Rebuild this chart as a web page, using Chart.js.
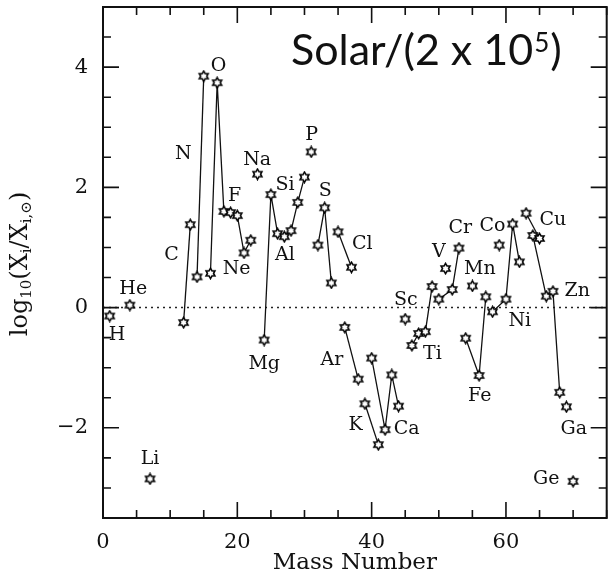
<!DOCTYPE html>
<html lang="en">
<head>
<meta charset="UTF-8">
<title>Production factors vs mass number</title>
<script src="https://cdn.jsdelivr.net/npm/chart.js"></script>
<style>
  body { margin: 0; background: #fff; }
  #wrap { width: 613px; height: 587px; position: relative; }
</style>
</head>
<body>
<div id="wrap"><canvas id="chart"></canvas></div>
<script>
// one entry per element: isotope mass numbers and log10(X/Xsun)
const elementNames = ['H','He','Li','C','N','O','F','Ne','Na','Mg','Al','Si','P','S','Cl','Ar','K','Ca',
                      'Sc','Ti','V','Cr','Mn','Fe','Co','Ni','Cu','Zn','Ga','Ge'];
const massNumbers = [[1],[4],[7],[12,13],[14,15],[16,17,18],[19],[20,21,22],[23],[24,25,26],[27],[28,29,30],
                     [31],[32,33,34],[35,37],[36,38],[39,41],[40,42,43,44],[45],[46,47,48,49],[51],[50,52,53],
                     [55],[54,56,57],[59],[58,60,61,62],[63,65],[64,66,67,68],[69],[70]];
const logValues = [[-0.14],[0.04],[-2.85],[-0.25,1.38],[0.51,3.85],[0.57,3.74,1.60],[1.58],[1.53,0.91,1.12],
                   [2.22],[-0.54,1.88,1.23],[1.18],[1.28,1.75,2.17],[2.59],[1.04,1.66,0.41],[1.26,0.67],
                   [-0.33,-1.19],[-1.60,-2.28],[-0.84,-2.03,-1.12,-1.64],[-0.19],[-0.63,-0.43,-0.40,0.35],
                   [0.65],[0.14,0.30,0.99],[0.36],[-0.51,-1.13,0.18],[1.04],[-0.07,0.14,1.39,0.76],
                   [1.57,1.15],[1.20,0.19,0.27,-1.41],[-1.65],[-2.89]];
// neighbours that the original joins into one line
const joinedElements = [['O','F','Ne'], ['Mg','Al','Si']];

// where each element name sits (data coords)
const labelNames = ['H','He','Li','C','N','O','F','Ne','Na','Mg','Al','Si','P','S','Cl','Ar','K','Ca',
                    'Sc','Ti','V','Cr','Mn','Fe','Co','Ni','Cu','Zn','Ga','Ge'];
const labelX = [2.1,4.5,7.0,10.2,11.95,17.2,19.6,19.9,22.96,24.0,27.1,27.1,31.05,33.1,38.6,34.1,37.6,45.2,
                45.1,49.05,50.0,53.2,56.1,56.1,58.0,62.05,67.0,70.6,70.1,66.0];
const labelY = [-0.46,0.31,-2.52,0.88,2.56,4.02,1.85,0.64,2.45,-0.94,0.88,2.04,2.87,1.93,1.05,-0.87,-1.96,-2.02,
                0.13,-0.77,0.93,1.33,0.64,-1.47,1.35,-0.22,1.46,0.28,-2.02,-2.85];

const xMajorTicks = [0, 20, 40, 60];
const yMajorTicks = [-2, 0, 2, 4];

// small open six-pointed star used as the marker
function makeStar() {
  const c = document.createElement('canvas');
  c.width = 13; c.height = 13;
  const g = c.getContext('2d');
  g.beginPath();
  for (let k = 0; k < 12; k++) {
    const r = k % 2 === 0 ? 5.2 : 3;
    const a = -Math.PI / 2 + k * Math.PI / 6;
    const px = 6.5 + r * Math.cos(a), py = 6.5 + r * Math.sin(a);
    k === 0 ? g.moveTo(px, py) : g.lineTo(px, py);
  }
  g.closePath();
  g.fillStyle = '#fff';
  g.fill();
  g.lineWidth = 1.5;
  g.strokeStyle = '#000';
  g.stroke();
  return c;
}
const star = makeStar();

// build one line dataset per element (or joined group)
const datasets = [];
const done = new Set();
elementNames.forEach(el => {
  if (done.has(el)) return;
  const chain = joinedElements.find(g => g.includes(el)) || [el];
  const pts = [];
  chain.forEach(e => {
    done.add(e);
    const k = elementNames.indexOf(e);
    massNumbers[k].forEach((m, j) => pts.push({ x: m, y: logValues[k][j] }));
  });
  pts.sort((a, b) => a.x - b.x);
  datasets.push({
    label: chain.join('-'),
    data: pts,
    showLine: true,
    borderColor: '#111',
    borderWidth: 1.3,
    pointStyle: star,
    pointRadius: 5
  });
});
// dotted zero line
datasets.push({
  label: 'zero',
  data: [{ x: 0, y: 0 }, { x: 75, y: 0 }],
  showLine: true,
  borderColor: '#222',
  borderWidth: 1.5,
  borderDash: [2, 4],
  pointRadius: 0
});

const serif = '"DejaVu Serif", serif';
const sans = 'Lato, "Open Sans", sans-serif';

const framePlugin = {
  id: 'frame',
  afterDatasetsDraw(chart) {
    const { ctx, chartArea: a, scales: { x, y } } = chart;
    ctx.save();
    ctx.strokeStyle = '#111';
    ctx.lineWidth = 2;
    ctx.strokeRect(a.left, a.top, a.right - a.left, a.bottom - a.top);
    ctx.lineWidth = 1.6;
    ctx.beginPath();
    for (let v = 0; v <= 75; v += 5) {
      const px = x.getPixelForValue(v);
      const len = xMajorTicks.includes(v) ? 16 : 8;
      ctx.moveTo(px, a.bottom); ctx.lineTo(px, a.bottom - len);
      ctx.moveTo(px, a.top); ctx.lineTo(px, a.top + len);
    }
    for (let v = -3; v <= 5; v += 0.5) {
      const py = y.getPixelForValue(v);
      const len = yMajorTicks.includes(v) ? 16 : 8;
      ctx.moveTo(a.left, py); ctx.lineTo(a.left + len, py);
      ctx.moveTo(a.right, py); ctx.lineTo(a.right - len, py);
    }
    ctx.stroke();

    // element names
    ctx.fillStyle = '#111';
    ctx.font = '19px ' + serif;
    ctx.textAlign = 'center';
    ctx.textBaseline = 'middle';
    labelNames.forEach((n, i) => {
      ctx.fillText(n, x.getPixelForValue(labelX[i]), y.getPixelForValue(labelY[i]));
    });

    // inset title
    ctx.textAlign = 'left';
    ctx.textBaseline = 'alphabetic';
    ctx.font = '43px ' + sans;
    let tx = 291;
    const base = 65;
    ctx.fillText('Solar/(2 x 10', tx, base);
    tx += ctx.measureText('Solar/(2 x 10').width;
    ctx.font = '26px ' + sans;
    ctx.fillText('5', tx + 1, base - 13);
    tx += ctx.measureText('5').width + 2;
    ctx.font = '43px ' + sans;
    ctx.fillText(')', tx, base);

    // y axis title with subscripts
    ctx.translate(21, 264);
    ctx.rotate(-Math.PI / 2);
    const parts = [['log', 24, 0], ['10', 15, 6], ['(X', 24, 0], ['i', 15, 6], ['/X', 24, 0], ['i,\u2299', 15, 6], [')', 24, 0]];
    let w = 0;
    parts.forEach(p => { ctx.font = p[1] + 'px ' + serif; w += ctx.measureText(p[0]).width; });
    let cx = -w / 2;
    ctx.textBaseline = 'middle';
    parts.forEach(p => {
      ctx.font = p[1] + 'px ' + serif;
      ctx.fillText(p[0], cx, p[2]);
      cx += ctx.measureText(p[0]).width;
    });
    ctx.restore();
  }
};

new Chart(document.getElementById('chart'), {
  type: 'scatter',
  data: { datasets },
  options: {
    responsive: true,
    maintainAspectRatio: false,
    animation: false,
    layout: { padding: { top: 7, right: 6, left: 0, bottom: 0 } },
    plugins: { legend: { display: false }, tooltip: { enabled: false } },
    scales: {
      x: {
        type: 'linear',
        min: 0, max: 75,
        grid: { display: false, drawTicks: false },
        border: { display: false },
        afterBuildTicks: s => { s.ticks = xMajorTicks.map(v => ({ value: v })); },
        afterFit: s => { s.height = 69; s.paddingLeft = 0; s.paddingRight = 0; },
        ticks: { color: '#111', font: { family: serif, size: 21 }, padding: 12, maxRotation: 0 },
        title: { display: true, text: 'Mass Number', color: '#111', font: { family: serif, size: 23 }, padding: { top: 0, bottom: 10 } }
      },
      y: {
        type: 'linear',
        min: -3.5, max: 5,
        grid: { display: false, drawTicks: false },
        border: { display: false },
        afterBuildTicks: s => { s.ticks = yMajorTicks.map(v => ({ value: v })); },
        afterFit: s => { s.width = 103; s.paddingTop = 0; s.paddingBottom = 0; },
        ticks: { color: '#111', font: { family: serif, size: 21 }, padding: 15,
                 callback: v => String(v).replace('-', '\u2212') }
      }
    }
  },
  plugins: [framePlugin]
});
</script>
</body>
</html>
